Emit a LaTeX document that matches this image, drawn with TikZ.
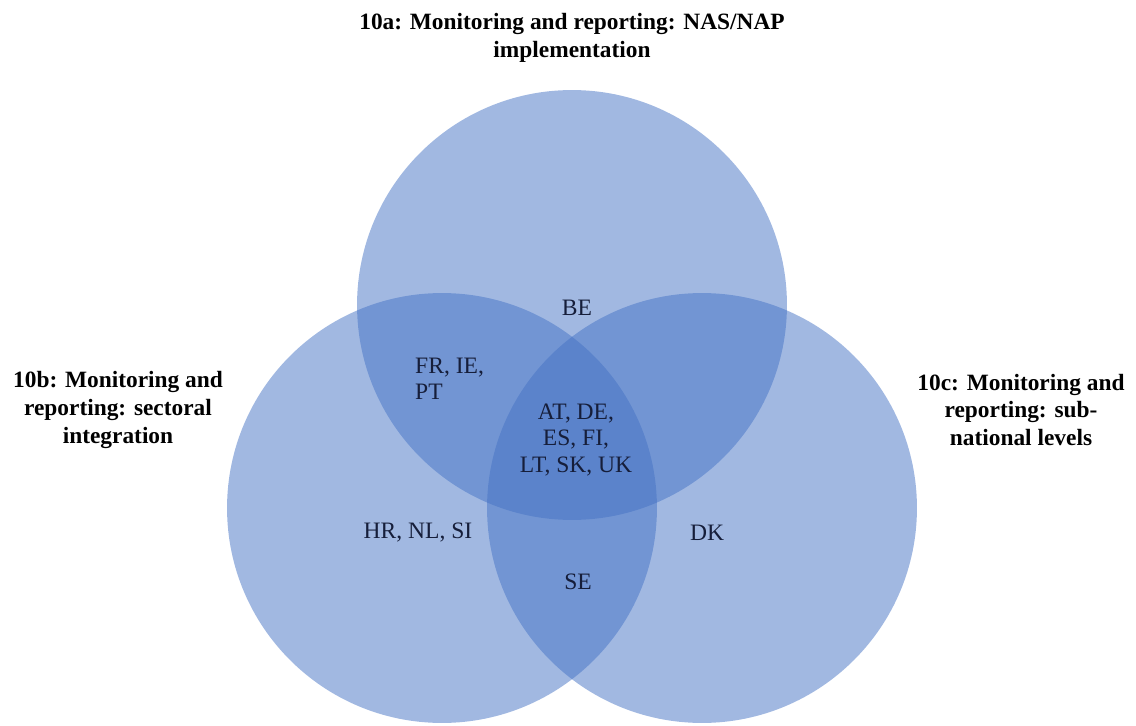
\documentclass[tikz,border=0pt]{standalone}
\usepackage{fontspec}
\setmainfont{Liberation Serif}
\usepackage{xcolor}
\usepackage{tikz}
\usetikzlibrary{
    positioning,
    backgrounds
}
\definecolor{vennblue}{RGB}{68,114,196}
\definecolor{memberink}{RGB}{22,30,58}
\tikzset{
    venncircle/.style={
        circle, draw=none, fill=vennblue, fill opacity=0.5,
        minimum size=8.6cm, inner sep=0pt
    },
    settitle/.style={
        font=\fontsize{13.3}{15.8}\selectfont\bfseries, align=center, text=black
    },
    member/.style={
        font=\fontsize{13.4}{15}\selectfont, align=center, text=memberink
    }
}

\begin{document}
\begin{tikzpicture}[x=0.02cm, y=-0.02cm]
    \useasboundingbox (0,0) rectangle (1136,726);

    % CIRCLES
    \node[venncircle] (nas) at (572,305) {};
    \node[venncircle] (sectoral) at (442,508) {};
    \node[venncircle] (subnational) at (702,508) {};

    % TITLES
    \node[settitle] (nas_title) at (572,38) {10a: Monitoring and reporting: NAS/NAP\\implementation};
    \node[settitle] (sectoral_title) at (118,410) {10b: Monitoring and\\reporting: sectoral\\integration};
    \node[settitle] (subnational_title) at (1021,410) {10c: Monitoring and\\reporting: sub-\\national levels};

    % MEMBERS
    \node[member] (only_nas) at (577,308) {BE};
    \node[member, align=left, anchor=west] (nas_sectoral) at (409,379) {FR, IE,\\PT};
    \node[member] (all_three) at (576,440) {AT, DE,\\ES, FI,\\LT, SK, UK};
    \node[member] (only_sectoral) at (418,533) {HR, NL, SI};
    \node[member] (only_subnational) at (707,533) {DK};
    \node[member] (sectoral_subnational) at (578,582) {SE};

\end{tikzpicture}
\end{document}
